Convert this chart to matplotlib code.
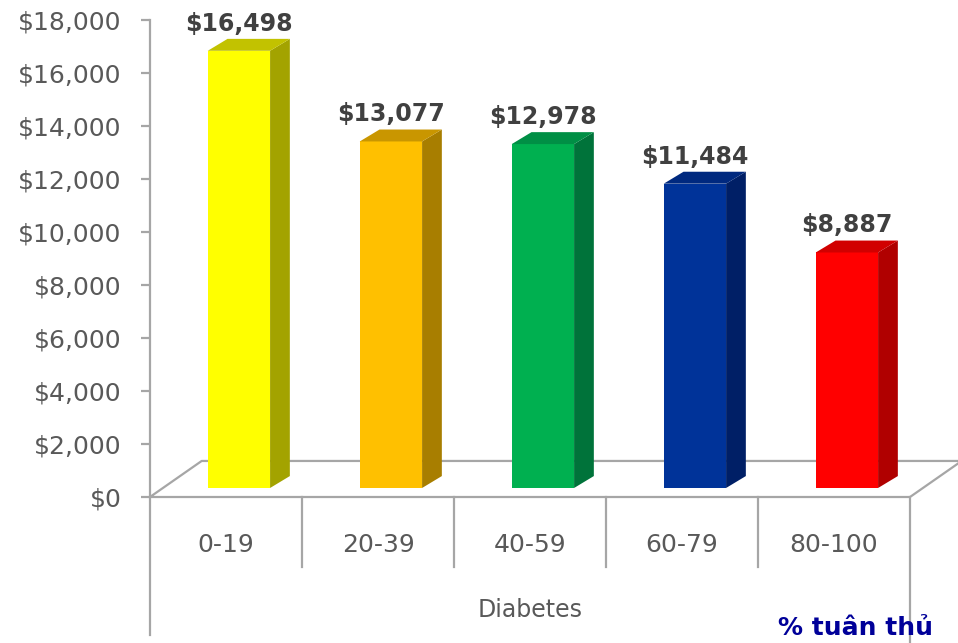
import matplotlib.pyplot as plt
from matplotlib.patches import Polygon

# dữ liệu
categories = ["0-19", "20-39", "40-59", "60-79", "80-100"]
costs = [16498, 13077, 12978, 11484, 8887]
front_colors = ["#FFFF00", "#FFC000", "#00B050", "#003399", "#FF0000"]
side_colors = ["#A3A300", "#A87E00", "#00733A", "#001F66", "#B00000"]
top_colors = ["#C2C200", "#C99600", "#008F45", "#00297F", "#D10000"]
yticks = list(range(0, 18001, 2000))

fig = plt.figure(figsize=(9.58, 6.43), dpi=100)
ax = fig.add_axes([150 / 958, 146 / 643, 760 / 958, 477 / 643])
ax.set_xlim(-0.5, 4.5)
ax.set_ylim(0, 18000)

gray = "#A6A6A6"
txt = "#595959"

# sàn giả 3D
fdx, fdy = 0.34, 1360
n = len(categories)
ax.plot([-0.5, n - 0.5, n - 0.5 + fdx, -0.5 + fdx, -0.5],
        [0, 0, fdy, fdy, 0], color=gray, lw=1.6, clip_on=False, zorder=1)

# trục dọc kéo xuống + vạch ngăn nhóm
ax.plot([-0.5, -0.5], [18000, -5200], color=gray, lw=1.6, clip_on=False, zorder=1)
ax.plot([n - 0.5, n - 0.5], [0, -5500], color=gray, lw=1.6, clip_on=False, zorder=1)
for i in range(1, n):
    ax.plot([i - 0.5, i - 0.5], [0, -2650], color=gray, lw=1.6, clip_on=False, zorder=1)

# cột 3D
bdx, bdy = 0.13, 450
base = 340
for i, v in enumerate(costs):
    x0, x1 = i - 0.12, i + 0.29
    top = base + v
    ax.add_patch(Polygon([(x0, base), (x1, base), (x1, top), (x0, top)],
                         closed=True, facecolor=front_colors[i], edgecolor="none", zorder=3))
    ax.add_patch(Polygon([(x1, base), (x1 + bdx, base + bdy), (x1 + bdx, top + bdy), (x1, top)],
                         closed=True, facecolor=side_colors[i], edgecolor="none", zorder=3))
    ax.add_patch(Polygon([(x0, top), (x0 + bdx, top + bdy), (x1 + bdx, top + bdy), (x1, top)],
                         closed=True, facecolor=top_colors[i], edgecolor="none", zorder=3))
    ax.text((x0 + x1) / 2, top + bdy + 120, "${:,}".format(v), ha="center", va="bottom",
            fontsize=17, fontweight="bold", color="#404040", zorder=4)

# nhãn trục
for i, c in enumerate(categories):
    ax.text(i, -1800, c, ha="center", va="center", fontsize=18, color=txt)
ax.text(2, -4270, "Diabetes", ha="center", va="center", fontsize=17, color=txt)
ax.text(4.14, -4930, "% tuân thủ", ha="center", va="center", fontsize=18,
        fontweight="bold", color="#000099")

ax.set_yticks(yticks)
ax.set_yticklabels(["${:,}".format(t) for t in yticks], fontsize=18, color=txt)
ax.tick_params(axis="y", direction="out", length=6.5, width=1.6, color=gray, pad=14)
ax.set_xticks([])
for s in ax.spines.values():
    s.set_visible(False)

fig.savefig("out.png", dpi=100)
